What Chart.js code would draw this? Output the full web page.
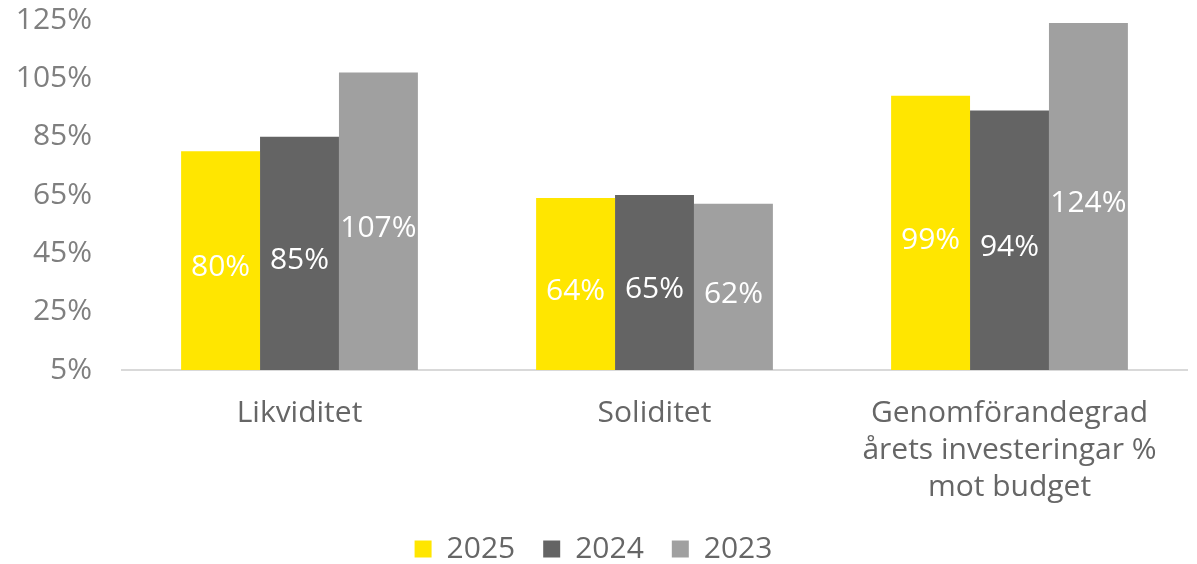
<!DOCTYPE html>
<html lang="sv">
<head>
  <meta charset="UTF-8" />
  <title>Nyckeltal</title>
  <script src="https://cdn.jsdelivr.net/npm/chart.js"></script>
  <style>
    body { margin: 0; background: #fff; }
  </style>
</head>
<body>
  <canvas id="kpiChart" width="1197" height="564"></canvas>

  <script>
    const categories = ['Likviditet', 'Soliditet', ['Genomförandegrad', 'årets investeringar %', 'mot budget']];
    const years = ['2025', '2024', '2023'];
    const values2025 = [80, 64, 99];
    const values2024 = [85, 65, 94];
    const values2023 = [107, 62, 124];
    const yTicks = { min: 5, max: 125, step: 20 };
    const colors = ['#FFE600', '#646464', '#A0A0A0'];

    const fontFamily = '"Open Sans", "Liberation Sans", sans-serif';
    const fontSize = 30;

    // white value labels in the middle of each bar
    const barLabels = {
      id: 'barLabels',
      afterDatasetsDraw(chart) {
        const ctx = chart.ctx;
        ctx.save();
        ctx.fillStyle = '#ffffff';
        ctx.font = '400 ' + fontSize + 'px ' + fontFamily;
        ctx.textAlign = 'center';
        ctx.textBaseline = 'middle';
        chart.data.datasets.forEach((ds, i) => {
          chart.getDatasetMeta(i).data.forEach((bar, j) => {
            const y = (bar.y + bar.base) / 2;
            ctx.fillText(ds.data[j] + '%', bar.x, y);
          });
        });
        ctx.restore();
      }
    };

    const allValues = [values2025, values2024, values2023];

    new Chart(document.getElementById('kpiChart'), {
      type: 'bar',
      data: {
        labels: categories,
        datasets: years.map((y, i) => ({
          label: y,
          data: allValues[i],
          backgroundColor: colors[i],
          borderWidth: 0,
          barPercentage: 1.0,
          categoryPercentage: 0.667
        }))
      },
      options: {
        responsive: false,
        animation: false,
        layout: { padding: { top: 20, right: 10, left: 0, bottom: -10 } },
        plugins: {
          tooltip: { enabled: false },
          legend: {
            position: 'bottom',
            labels: {
              boxWidth: 17,
              boxHeight: 17,
              padding: 28,
              color: '#666666',
              font: { family: fontFamily, size: fontSize, weight: '400', lineHeight: 1.0 }
            }
          }
        },
        scales: {
          x: {
            grid: { display: false, drawTicks: false },
            border: { display: true, color: '#d9d9d9', width: 2 },
            ticks: {
              color: '#666666',
              padding: 25,
              maxRotation: 0,
              font: { family: fontFamily, size: fontSize, weight: '400', lineHeight: 1.23 }
            },
            afterFit(scale) { scale.height = 136; }
          },
          y: {
            min: yTicks.min,
            max: yTicks.max,
            grid: { display: false, drawTicks: false },
            border: { display: false },
            ticks: {
              stepSize: yTicks.step,
              padding: 30,
              color: '#7f7f7f',
              font: { family: fontFamily, size: fontSize, weight: '400' },
              callback: v => v + '%'
            },
            afterFit(scale) {
              scale.width = 122;
              scale.paddingTop = 0;
              scale.paddingBottom = 0;
            }
          }
        }
      },
      plugins: [barLabels]
    });
  </script>
</body>
</html>
